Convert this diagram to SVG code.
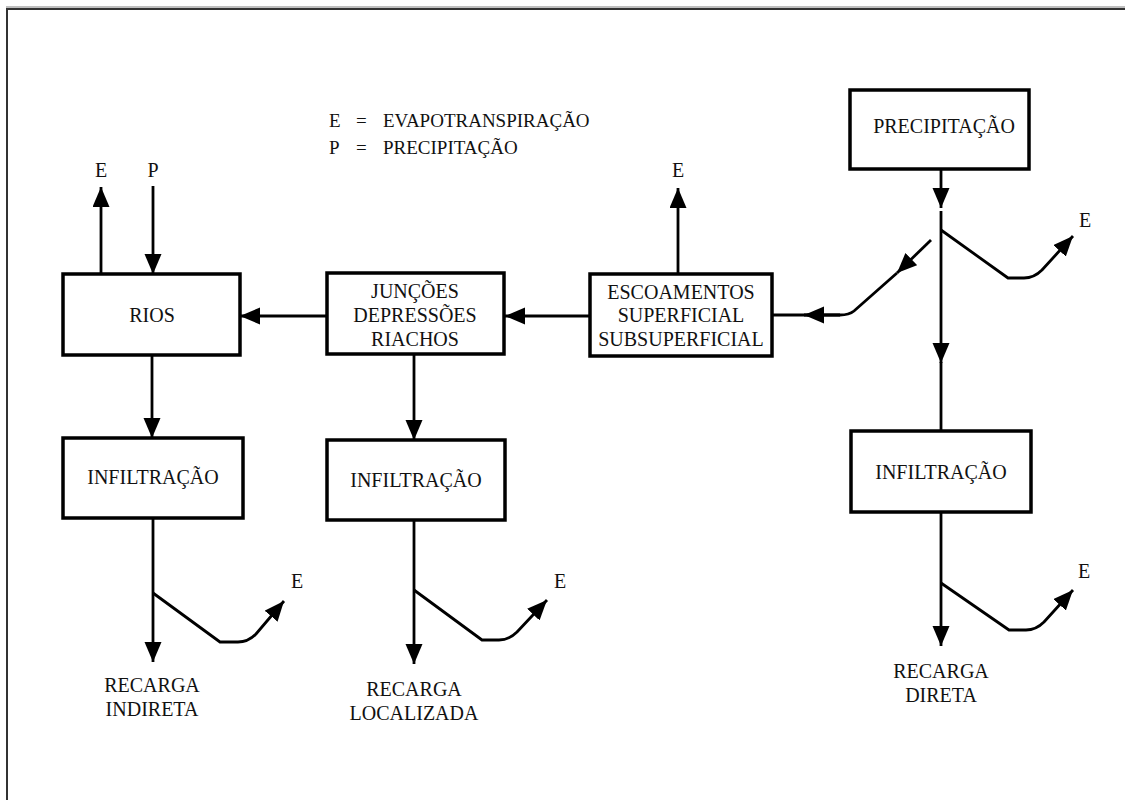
<svg xmlns="http://www.w3.org/2000/svg" width="1125" height="800" viewBox="0 0 1125 800">
<style>
text{font-family:"Liberation Serif","Times New Roman",serif;font-size:20px;fill:#111;text-anchor:middle}
.box{fill:#fff;stroke:#000;stroke-width:3.5}
.ln{fill:none;stroke:#000;stroke-width:2.8}
.ar{fill:none;stroke:#000;stroke-width:2.8;marker-end:url(#ah)}
.lg{text-anchor:start;font-size:19px}
</style>
<defs>
<marker id="ah" markerUnits="userSpaceOnUse" markerWidth="21" markerHeight="18" refX="20" refY="8.5" orient="auto">
<path d="M0,0 L20,8.5 L0,17 z" fill="#000"/>
</marker>
</defs>
<rect x="0" y="0" width="1125" height="800" fill="#fff"/>
<line x1="6" y1="7" x2="1125" y2="7" stroke="#aaa" stroke-width="1.5"/>
<rect x="7" y="9" width="1130" height="800" fill="none" stroke="#333" stroke-width="2"/>

<g id="legend">
<text class="lg" x="329" y="127">E</text><text class="lg" x="356" y="127">=</text><text class="lg" x="383" y="127">EVAPOTRANSPIRAÇÃO</text>
<text class="lg" x="329" y="154">P</text><text class="lg" x="356" y="154">=</text><text class="lg" x="383" y="154">PRECIPITAÇÃO</text>
</g>

<g id="connectors">
<line class="ar" x1="101" y1="274" x2="101" y2="187"/>
<line class="ar" x1="153" y1="186" x2="153" y2="274"/>
<line class="ar" x1="327" y1="316" x2="240" y2="316"/>
<line class="ar" x1="590" y1="316" x2="505" y2="316"/>
<line class="ar" x1="678" y1="274" x2="678" y2="188"/>
<line class="ar" x1="152" y1="355" x2="152" y2="438"/>
<line class="ar" x1="414" y1="354" x2="414" y2="440"/>
<line class="ar" x1="941" y1="169" x2="941" y2="208"/>
<line class="ar" x1="941" y1="211" x2="941" y2="363"/>
<line class="ln" x1="941" y1="362" x2="941" y2="431"/>
<path class="ar" d="M941,230 L1008,278 L1024,278 Q1034,278 1042,270 L1073,236"/>
<path class="ar" d="M931,240 L897,273"/>
<path class="ln" d="M897,273 L854,311 Q849,315 840,315 L772,315"/>
<line class="ar" x1="840" y1="315" x2="804" y2="315"/>
<line class="ar" x1="153" y1="518" x2="153" y2="662"/>
<path class="ar" d="M153,593 L220,642 L238,642 Q248,642 256,634 L284,601"/>
<line class="ar" x1="414" y1="520" x2="414" y2="664"/>
<path class="ar" d="M414,590 L482,640 L499,640 Q509,640 517,632 L547,600"/>
<line class="ar" x1="941" y1="512" x2="941" y2="646"/>
<path class="ar" d="M941,583 L1009,630 L1026,630 Q1036,630 1044,622 L1073,590"/>
</g>

<g id="labels">
<text x="101" y="177">E</text>
<text x="153" y="177">P</text>
<text x="678" y="177">E</text>
<text x="1085" y="227">E</text>
<text x="297" y="588">E</text>
<text x="560" y="588">E</text>
<text x="1084" y="578">E</text>
</g>

<g id="rios"><rect class="box" x="63" y="274" width="177" height="81"/><text x="152" y="322">RIOS</text></g>
<g id="juncoes"><rect class="box" x="327" y="273" width="177" height="81"/>
<text x="415" y="298">JUNÇÕES</text><text x="415" y="322">DEPRESSÕES</text><text x="415" y="346">RIACHOS</text></g>
<g id="escoamentos"><rect class="box" x="590" y="274" width="182" height="82"/>
<text x="681" y="299">ESCOAMENTOS</text><text x="681" y="322">SUPERFICIAL</text><text x="681" y="346">SUBSUPERFICIAL</text></g>
<g id="precipitacao"><rect class="box" x="850" y="90" width="179" height="79"/><text x="944" y="133">PRECIPITAÇÃO</text></g>
<g id="infiltracao1"><rect class="box" x="63" y="438" width="180" height="80"/><text x="153" y="484">INFILTRAÇÃO</text></g>
<g id="infiltracao2"><rect class="box" x="327" y="440" width="178" height="80"/><text x="416" y="487">INFILTRAÇÃO</text></g>
<g id="infiltracao3"><rect class="box" x="851" y="431" width="180" height="81"/><text x="941" y="479">INFILTRAÇÃO</text></g>

<g id="recarga1"><text x="152" y="692">RECARGA</text><text x="152" y="716">INDIRETA</text></g>
<g id="recarga2"><text x="414" y="696">RECARGA</text><text x="414" y="720">LOCALIZADA</text></g>
<g id="recarga3"><text x="941" y="678">RECARGA</text><text x="941" y="702">DIRETA</text></g>
</svg>
